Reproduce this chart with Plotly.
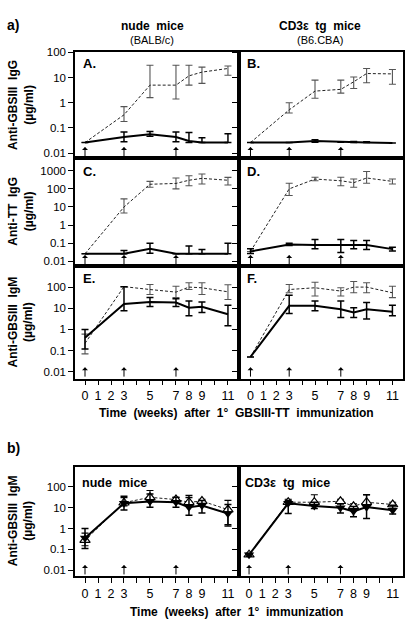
import plotly.graph_objects as go

W, H = 407, 629

weeks = [0, 3, 5, 7, 8, 9, 11]
x_tickvals = list(range(12))
x_ticktext = ["0", "1", "2", "3", "", "5", "", "7", "8", "9", "", "11"]

# Panel A: nude mice, anti-GBSIII IgG
A_dash = [0.026, 0.33, 5.0, 5.0, 11.7, 16.5, 23]
A_dash_hi = [0.026, 0.7, 31, 31, 31, 26, 29]
A_dash_lo = [0.026, 0.18, 1.6, 1.4, 5, 5.9, 12.4]
A_sol = [0.026, 0.043, 0.056, 0.043, 0.03, 0.026, 0.026]
A_sol_hi = [0.026, 0.069, 0.072, 0.069, 0.065, 0.04, 0.058]
A_sol_lo = [0.026, 0.028, 0.046, 0.028, 0.026, 0.026, 0.026]

# Panel B: CD3e tg mice, anti-GBSIII IgG
B_dash = [0.026, 0.52, 2.9, 3.4, 6.8, 14.5, 14]
B_dash_hi = [0.026, 1.0, 7.9, 7.9, 10.6, 23, 21]
B_dash_lo = [0.026, 0.39, 1.5, 2.4, 3.7, 6.2, 5.4]
B_sol = [0.026, 0.026, 0.03, 0.027, 0.027, 0.026, 0.025]
B_sol_hi = [0.026, 0.026, 0.034, 0.027, 0.029, 0.028, 0.025]
B_sol_lo = [0.026, 0.026, 0.027, 0.027, 0.026, 0.026, 0.025]

# Panel C: nude mice, anti-TT IgG
C_dash = [0.026, 10, 180, 200, 300, 380, 300]
C_dash_hi = [0.026, 28, 260, 400, 535, 660, 430]
C_dash_lo = [0.026, 4.7, 124, 100, 150, 187, 165]
C_sol = [0.026, 0.026, 0.05, 0.026, 0.026, 0.026, 0.026]
C_sol_hi = [0.026, 0.04, 0.1, 0.026, 0.07, 0.045, 0.1]
C_sol_lo = [0.026, 0.026, 0.028, 0.026, 0.026, 0.026, 0.026]

# Panel D: CD3e tg mice, anti-TT IgG
D_dash = [0.035, 100, 350, 280, 220, 400, 260]
D_dash_hi = [0.035, 205, 440, 440, 350, 920, 350]
D_dash_lo = [0.035, 43, 280, 150, 124, 205, 185]
D_sol = [0.035, 0.085, 0.08, 0.08, 0.08, 0.08, 0.047]
D_sol_hi = [0.05, 0.1, 0.16, 0.16, 0.14, 0.14, 0.06]
D_sol_lo = [0.027, 0.075, 0.05, 0.031, 0.05, 0.045, 0.037]

# Panel E: nude mice, anti-GBSIII IgM
E_dash = [0.22, 105, 77, 58, 100, 93, 60]
E_dash_hi = [0.6, 105, 132, 110, 160, 160, 130]
E_dash_lo = [0.07, 105, 45, 32, 77, 45, 26]
E_sol = [0.4, 16, 20, 18.5, 10.7, 11.7, 5.2]
E_sol_hi = [1.0, 105, 32, 28, 22, 20, 13.8]
E_sol_lo = [0.12, 7.6, 12, 12, 4.4, 6.3, 1.5]

# Panel F: CD3e tg mice, anti-GBSIII IgM
F_dash = [0.05, 77, 93, 65, 100, 100, 54]
F_dash_hi = [0.05, 132, 170, 93, 185, 160, 110]
F_dash_lo = [0.05, 54, 38, 38, 54, 54, 32]
F_sol = [0.05, 13, 13, 9, 6.3, 9, 6.8]
F_sol_hi = [0.05, 41, 22, 22, 10.7, 18.5, 14]
F_sol_lo = [0.05, 5.6, 7.6, 3.7, 3.7, 3.1, 4.4]

# Panel b, nude mice
bN_fill = [0.35, 16, 19.6, 18, 10.5, 12.5, 5.2]
bN_fill_hi = [1.0, 35, 45, 31, 38, 22, 14]
bN_fill_lo = [0.11, 7.6, 10.5, 10.5, 4.3, 5.5, 1.5]
bN_open = [0.28, 17, 31, 24, 18, 20.4, 8]
bN_open_hi = [0.6, 30, 65, 30, 30, 25, 22]
bN_open_lo = [0.15, 12, 20, 18, 12, 15, 1.3]

# Panel b, CD3e tg mice
bC_fill = [0.056, 16, 12, 9.8, 6.6, 10.5, 7.4]
bC_fill_hi = [0.065, 22, 18, 15, 11.4, 41, 13]
bC_fill_lo = [0.048, 5.2, 9, 5.5, 3.6, 3.0, 5]
bC_open = [0.056, 18, 18, 20, 11.5, 18, 14]
bC_open_hi = [0.065, 25, 41, 25, 15, 41, 18]
bC_open_lo = [0.048, 14, 14, 16, 9, 14, 11]

immunization_weeks = [0, 3, 7]

FONT = "Arial, Liberation Sans, Helvetica, sans-serif"


def px_x(p):
    return p / W


def px_y(p):
    return 1 - p / H


fig = go.Figure()


def err(v, hi, lo):
    return dict(type="data", symmetric=False,
                array=[h - a for a, h in zip(v, hi)],
                arrayminus=[a - l for a, l in zip(v, lo)])


def add_pair(idx, dash, dhi, dlo, sol, shi, slo, markers=False):
    xa = "x" if idx == 1 else f"x{idx}"
    ya = "y" if idx == 1 else f"y{idx}"
    e1 = err(dash, dhi, dlo)
    e1.update(color="#555555" if not markers else "black", thickness=1.1, width=3.5)
    d_marker = dict(symbol="triangle-up", size=9, color="white",
                    line=dict(color="black", width=1.2)) if markers else None
    fig.add_trace(go.Scatter(
        x=weeks, y=dash, xaxis=xa, yaxis=ya,
        mode="lines+markers" if markers else "lines",
        marker=d_marker,
        line=dict(color="#222222", width=1, dash="3px,2px"),
        error_y=e1, showlegend=False, cliponaxis=False))
    e2 = err(sol, shi, slo)
    e2.update(color="black", thickness=1.5, width=3.5)
    s_marker = dict(symbol="triangle-down", size=9, color="black") if markers else None
    fig.add_trace(go.Scatter(
        x=weeks, y=sol, xaxis=xa, yaxis=ya,
        mode="lines+markers" if markers else "lines",
        marker=s_marker,
        line=dict(color="black", width=2),
        error_y=e2, showlegend=False, cliponaxis=False))


add_pair(1, A_dash, A_dash_hi, A_dash_lo, A_sol, A_sol_hi, A_sol_lo)
add_pair(2, B_dash, B_dash_hi, B_dash_lo, B_sol, B_sol_hi, B_sol_lo)
add_pair(3, C_dash, C_dash_hi, C_dash_lo, C_sol, C_sol_hi, C_sol_lo)
add_pair(4, D_dash, D_dash_hi, D_dash_lo, D_sol, D_sol_hi, D_sol_lo)
add_pair(5, E_dash, E_dash_hi, E_dash_lo, E_sol, E_sol_hi, E_sol_lo)
add_pair(6, F_dash, F_dash_hi, F_dash_lo, F_sol, F_sol_hi, F_sol_lo)
add_pair(7, bN_open, bN_open_hi, bN_open_lo, bN_fill, bN_fill_hi, bN_fill_lo, markers=True)
add_pair(8, bC_open, bC_open_hi, bC_open_lo, bC_fill, bC_fill_hi, bC_fill_lo, markers=True)

# layout geometry (pixels)
colL = (75, 239)
colR = (239, 403)
rows = {
    "A": (46.7, 154, [-2.21, 2.01], [0.01, 0.1, 1, 10, 100]),
    "C": (154, 263.3, [-2.28, 3.69], [0.01, 0.1, 1, 10, 100, 1000]),
    "E": (263.3, 376.7, [-2.32, 2.98], [0.01, 0.1, 1, 10, 100]),
    "b": (465.7, 576.7, [-2.28, 2.96], [0.01, 0.1, 1, 10, 100]),
}
xrange_L = [-0.77, 11.85]
xrange_Ra = [-0.89, 11.82]
xrange_Rb = [-0.77, 11.79]

panels = [
    (1, "A", colL, xrange_L, True, False),
    (2, "A", colR, xrange_Ra, False, False),
    (3, "C", colL, xrange_L, True, False),
    (4, "C", colR, xrange_Ra, False, False),
    (5, "E", colL, xrange_L, True, True),
    (6, "E", colR, xrange_Ra, False, True),
    (7, "b", colL, xrange_L, True, True),
    (8, "b", colR, xrange_Rb, False, True),
]

layout = {}
for idx, row, col, xr, left, bottom in panels:
    top, bot, yr, tv = rows[row]
    xk = "xaxis" if idx == 1 else f"xaxis{idx}"
    yk = "yaxis" if idx == 1 else f"yaxis{idx}"
    ya_name = "y" if idx == 1 else f"y{idx}"
    xa_name = "x" if idx == 1 else f"x{idx}"
    layout[xk] = dict(
        domain=[px_x(col[0]), px_x(col[1])], range=xr, anchor=ya_name,
        showgrid=False, zeroline=False, showline=True, linecolor="black",
        linewidth=1.5, mirror=True,
        tickvals=x_tickvals, ticktext=x_ticktext,
        ticks="outside" if bottom else "", ticklen=5, tickwidth=1.2, tickcolor="black",
        showticklabels=bottom,
        tickfont=dict(family=FONT, size=12.5, color="black"))
    layout[yk] = dict(
        domain=[px_y(bot), px_y(top)], range=yr, type="log", anchor=xa_name,
        showgrid=False, zeroline=False, showline=True, linecolor="black",
        linewidth=1.5, mirror=True,
        tickvals=tv, ticktext=[("%g" % v) for v in tv],
        ticks="outside", ticklen=5, tickwidth=1.2, tickcolor="black",
        showticklabels=left,
        tickfont=dict(family=FONT, size=11.5, color="black"))

annotations = []
# immunization arrows
for idx, row, col, xr, left, bottom in panels:
    top, bot, yr, tv = rows[row]
    h = bot - top
    xa_name = "x" if idx == 1 else f"x{idx}"
    ya_name = "y" if idx == 1 else f"y{idx}"
    for wk in immunization_weeks:
        annotations.append(dict(
            x=wk, y=11.5 / h, xref=xa_name, yref=f"{ya_name} domain",
            ax=0, ay=11, axref="pixel", ayref="pixel", text="", showarrow=True,
            arrowhead=1, arrowsize=1, arrowwidth=1, arrowcolor="black"))


def txt(x, y, s, size=12, bold=True, xanchor="center", yanchor="middle", angle=0):
    annotations.append(dict(
        x=px_x(x), y=px_y(y), xref="paper", yref="paper", text=f"<b>{s}</b>" if bold else s,
        showarrow=False, xanchor=xanchor, yanchor=yanchor, textangle=angle,
        font=dict(family=FONT, size=size, color="black")))


txt(5, 19, "a)", size=14, xanchor="left")
txt(5, 447, "b)", size=14, xanchor="left")
txt(152, 20, "nude  mice", size=12)
txt(152, 34, "(BALB/c)", size=11, bold=False)
txt(320, 20, "CD3ε  tg  mice", size=12)
txt(320, 34, "(B6.CBA)", size=11, bold=False)

txt(81, 58, "A.", size=13, xanchor="left")
txt(245, 58, "B.", size=13, xanchor="left")
txt(81, 167, "C.", size=13, xanchor="left")
txt(245, 167, "D.", size=13, xanchor="left")
txt(81, 276, "E.", size=13, xanchor="left")
txt(245, 276, "F.", size=13, xanchor="left")
txt(80, 482, "nude  mice", size=12.5, xanchor="left")
txt(243, 482, "CD3ε  tg  mice", size=12.5, xanchor="left")

txt(21, 100, "Anti-GBSIII  IgG<br>(µg/ml)", size=12, angle=-90)
txt(21, 208, "Anti-TT  IgG<br>(µg/ml)", size=12, angle=-90)
txt(21, 320, "Anti-GBSIII  IgM<br>(µg/ml)", size=12, angle=-90)
txt(21, 521, "Anti-GBSIII  IgM<br>(µg/ml)", size=12, angle=-90)

txt(236, 412, "Time  (weeks)  after  1°  GBSIII-TT  immunization", size=12)
txt(236, 613, "Time  (weeks)  after  1°  immunization", size=12)

fig.update_layout(
    width=W, height=H, margin=dict(l=0, r=0, t=0, b=0),
    paper_bgcolor="white", plot_bgcolor="white",
    showlegend=False, annotations=annotations, **layout)

fig.write_html("out.html", config={"displayModeBar": False},
               post_script="document.body.style.margin='0px';")
